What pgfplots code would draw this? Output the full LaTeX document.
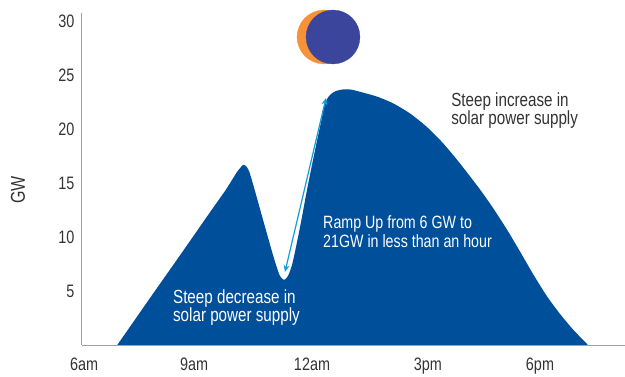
\documentclass[border=0pt]{standalone}
\usepackage{fontspec}
\setmainfont[FakeStretch=0.8]{Liberation Sans}
\usepackage{pgfplots}
\usetikzlibrary{arrows.meta}
\pgfplotsset{compat=1.18}
\definecolor{areablue}{HTML}{004F9A}
\definecolor{sunorange}{HTML}{F79239}
\definecolor{sunblue}{HTML}{3B459C}
\definecolor{arrowblue}{HTML}{0F9ED9}
\definecolor{axisgray}{HTML}{A0A0A0}
\definecolor{txt}{HTML}{333333}
\begin{document}
\begin{tikzpicture}[x=1pt,y=1pt]
\useasboundingbox (-82pt,-31pt) rectangle (543pt,345pt);
\begin{axis}[
  at={(0pt,0pt)},anchor=origin,
  scale only axis,width=543pt,height=332pt,
  xmin=5.947,xmax=20.237,ymin=0,ymax=30.74,
  axis x line*=bottom,axis y line*=left,
  axis line style={axisgray,line width=1pt,-},
  major tick length=0pt,
  xtick={6,8.9,12,15.05,18},
  xticklabels={6am,9am,12am,3pm,6pm},
  ytick={5,10,15,20,25,30},
  tick label style={font=\fontsize{18}{20}\selectfont,text=txt},
  /pgf/number format/assume math mode=true,
  xticklabel style={yshift=-9pt},
  yticklabel style={xshift=-4pt},
  ylabel={GW},
  ylabel style={font=\fontsize{20}{22}\selectfont,text=txt,at={(axis description cs:-0.118,0.467)},anchor=center},
  clip=false,axis on top,
]
\addplot[draw=none,fill=areablue,smooth,tension=0.4] coordinates {
(6.876,0)(7.737,4.35)(8.605,8.70)(9.395,12.69)(9.711,14.26)(9.895,15.28)(10.026,16.02)(10.132,16.48)(10.184,16.67)(10.263,16.57)(10.342,16.11)(10.447,14.91)(10.632,12.59)(10.816,10.28)(10.974,8.33)(11.079,7.13)(11.158,6.39)(11.263,6.02)(11.368,6.39)(11.474,7.41)(11.579,9.07)(11.711,11.39)(11.868,14.35)(12.053,17.59)(12.237,20.65)(12.316,21.94)(12.395,22.78)(12.5,23.24)(12.632,23.52)(12.816,23.66)(13,23.66)(13.184,23.52)(13.711,23.0)(14.132,22.38)(14.579,21.44)(15.026,20.18)(15.447,18.69)(15.895,16.81)(16.421,14.4)(16.763,12.69)(17.132,10.68)(17.474,8.66)(17.816,6.58)(18.184,4.51)(18.526,2.88)(18.868,1.44)(19.263,0)
} -- cycle;
\addplot[only marks,mark=*,mark size=27pt,mark options={draw=sunorange,fill=sunorange,line width=0.2pt}] coordinates {(12.316,28.52)};
\addplot[only marks,mark=*,mark size=27pt,mark options={draw=sunblue,fill=sunblue,line width=0.2pt}] coordinates {(12.553,28.52)};
\addplot[arrowblue,line width=1.2pt,{Stealth[length=7pt,width=6pt]}-{Stealth[length=7pt,width=6pt]}] coordinates {(11.289,6.76)(12.368,22.87)};
\node[anchor=west,align=left,inner sep=0pt,text=txt,font=\fontsize{19}{18}\selectfont] at (axis cs:15.66,21.67) {Steep increase in\\solar power supply};
\node[anchor=west,align=left,inner sep=0pt,text=white,font=\fontsize{17.8}{19}\selectfont] at (axis cs:12.29,10.46) {Ramp Up from 6 GW to\\21GW in less than an hour};
\node[anchor=west,align=left,inner sep=0pt,text=white,font=\fontsize{19}{18}\selectfont] at (axis cs:8.34,3.43) {Steep decrease in\\solar power supply};
\end{axis}
\end{tikzpicture}
\end{document}
